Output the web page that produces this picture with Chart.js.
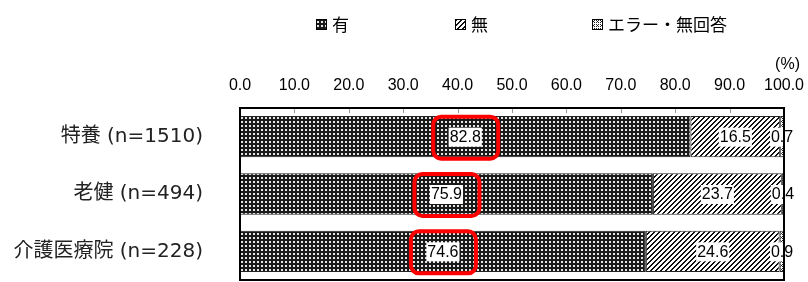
<!DOCTYPE html>
<html lang="ja">
<head>
<meta charset="utf-8">
<script src="https://cdn.jsdelivr.net/npm/chart.js@4"></script>
<style>
  body { margin: 0; background: #fff; }
</style>
</head>
<body>
<canvas id="chart" width="808" height="282"></canvas>
<script>
// data
const categories = ["特養 (n=1510)", "老健 (n=494)", "介護医療院 (n=228)"];
const seriesNames = ["有", "無", "エラー・無回答"];
const yesValues = [82.8, 75.9, 74.6];
const noValues = [16.5, 23.7, 24.6];
const errorValues = [0.7, 0.4, 0.9];
const xTicks = [0, 10, 20, 30, 40, 50, 60, 70, 80, 90, 100];
const unitLabel = "(%)";

const ctx = document.getElementById("chart").getContext("2d");

function makePattern(size, draw) {
  const c = document.createElement("canvas");
  c.width = size;
  c.height = size;
  const g = c.getContext("2d");
  draw(g);
  return ctx.createPattern(c, "repeat");
}

// dark with light dots
const dotPattern = makePattern(4, (g) => {
  g.fillStyle = "#1a1a1a";
  g.fillRect(0, 0, 4, 4);
  g.fillStyle = "#e6e6e6";
  g.fillRect(1, 1, 2, 2);
});

// "/" stripes
const stripePattern = makePattern(5, (g) => {
  g.fillStyle = "#fff";
  g.fillRect(0, 0, 5, 5);
  g.fillStyle = "#111";
  for (let x = 0; x < 5; x++) {
    for (let y = 0; y < 5; y++) {
      if ((x + y) % 5 < 2) g.fillRect(x, y, 1, 1);
    }
  }
});

// small cross hatch
const crossPattern = makePattern(4, (g) => {
  g.fillStyle = "#fff";
  g.fillRect(0, 0, 4, 4);
  g.fillStyle = "#222";
  g.fillRect(0, 0, 1, 1);
  g.fillRect(2, 2, 1, 1);
  g.fillRect(2, 0, 1, 1);
  g.fillRect(0, 2, 1, 1);
  g.fillRect(1, 1, 1, 1);
});

const fills = [dotPattern, stripePattern, crossPattern];

// frame, inner tick marks, (%) and the legend
const framePlugin = {
  id: "frame",
  afterDraw(chart) {
    const { ctx, chartArea: a, scales } = chart;
    ctx.save();
    ctx.strokeStyle = "#999";
    ctx.lineWidth = 1;
    xTicks.forEach((v) => {
      const px = Math.round(scales.x.getPixelForValue(v)) + 0.5;
      ctx.beginPath();
      ctx.moveTo(px, a.top);
      ctx.lineTo(px, a.top + 5);
      ctx.stroke();
    });
    ctx.strokeStyle = "#000";
    ctx.lineWidth = 2;
    ctx.strokeRect(a.left, a.top, a.right - a.left, a.bottom - a.top);

    ctx.fillStyle = "#000";
    ctx.font = "16px 'Liberation Sans', Arial, sans-serif";
    ctx.textAlign = "right";
    ctx.textBaseline = "middle";
    ctx.fillText(unitLabel, 800, 65);

    // legend
    const boxX = [316, 455, 592];
    ctx.font = "17px 'Noto Sans CJK JP', sans-serif";
    ctx.textAlign = "left";
    seriesNames.forEach((name, i) => {
      ctx.fillStyle = fills[i];
      ctx.fillRect(boxX[i], 19, 11, 11);
      ctx.strokeStyle = "#000";
      ctx.lineWidth = 1;
      ctx.strokeRect(boxX[i] + 0.5, 19.5, 10, 10);
      ctx.fillStyle = "#000";
      ctx.fillText(name, boxX[i] + 16, 25);
    });
    ctx.restore();
  },
};

// value labels on white boxes, red outline on the first series
const valueLabelPlugin = {
  id: "valueLabels",
  afterDatasetsDraw(chart) {
    const ctx = chart.ctx;
    ctx.save();
    ctx.font = "16px 'Liberation Sans', Arial, sans-serif";
    ctx.textAlign = "center";
    ctx.textBaseline = "middle";
    chart.data.datasets.forEach((ds, d) => {
      const meta = chart.getDatasetMeta(d);
      meta.data.forEach((el, i) => {
        const text = ds.data[i].toFixed(1);
        const cx = (el.x + el.base) / 2;
        const cy = el.y;
        const w = ctx.measureText(text).width;
        ctx.fillStyle = "#fff";
        ctx.fillRect(cx - w / 2 - 1, cy - 9, w + 2, 19);
        ctx.fillStyle = "#000";
        ctx.fillText(text, cx, cy + 1);
        if (d === 0) {
          ctx.strokeStyle = "#ff0000";
          ctx.lineWidth = 4;
          ctx.beginPath();
          ctx.roundRect(cx - 32, cy - 20, 65, 42, 8);
          ctx.stroke();
        }
      });
    });
    ctx.restore();
  },
};

new Chart(ctx, {
  type: "bar",
  data: {
    labels: categories,
    datasets: [yesValues, noValues, errorValues].map((vals, i) => ({
      label: seriesNames[i],
      data: vals,
      backgroundColor: fills[i],
      borderColor: "#222",
      borderWidth: 1,
      borderSkipped: false,
      barPercentage: 0.72,
      categoryPercentage: 1,
    })),
  },
  options: {
    indexAxis: "y",
    responsive: false,
    animation: false,
    layout: { padding: { top: 60, right: 24, bottom: 2, left: 0 } },
    plugins: {
      legend: { display: false },
      tooltip: { enabled: false },
    },
    scales: {
      x: {
        position: "top",
        stacked: true,
        min: 0,
        max: 100,
        grid: { display: false, drawTicks: false, tickLength: 0 },
        border: { display: false },
        afterBuildTicks: (scale) => {
          scale.ticks = xTicks.map((v) => ({ value: v }));
        },
        afterFit: (scale) => {
          scale.height = 48;
          scale.paddingLeft = 0;
          scale.paddingRight = 0;
        },
        ticks: {
          color: "#000",
          padding: 13,
          maxRotation: 0,
          autoSkip: false,
          font: { family: "'Liberation Sans', Arial, sans-serif", size: 16 },
          callback: (v) => Number(v).toFixed(1),
        },
      },
      y: {
        stacked: true,
        grid: { display: false, drawTicks: false, tickLength: 0 },
        border: { display: false },
        afterFit: (scale) => {
          scale.width = 240;
          scale.paddingTop = 0;
          scale.paddingBottom = 0;
        },
        ticks: {
          color: "#222",
          padding: 37,
          font: { family: "'DejaVu Sans', 'Noto Sans CJK JP', sans-serif", size: 20 },
        },
      },
    },
  },
  plugins: [framePlugin, valueLabelPlugin],
});
</script>
</body>
</html>
